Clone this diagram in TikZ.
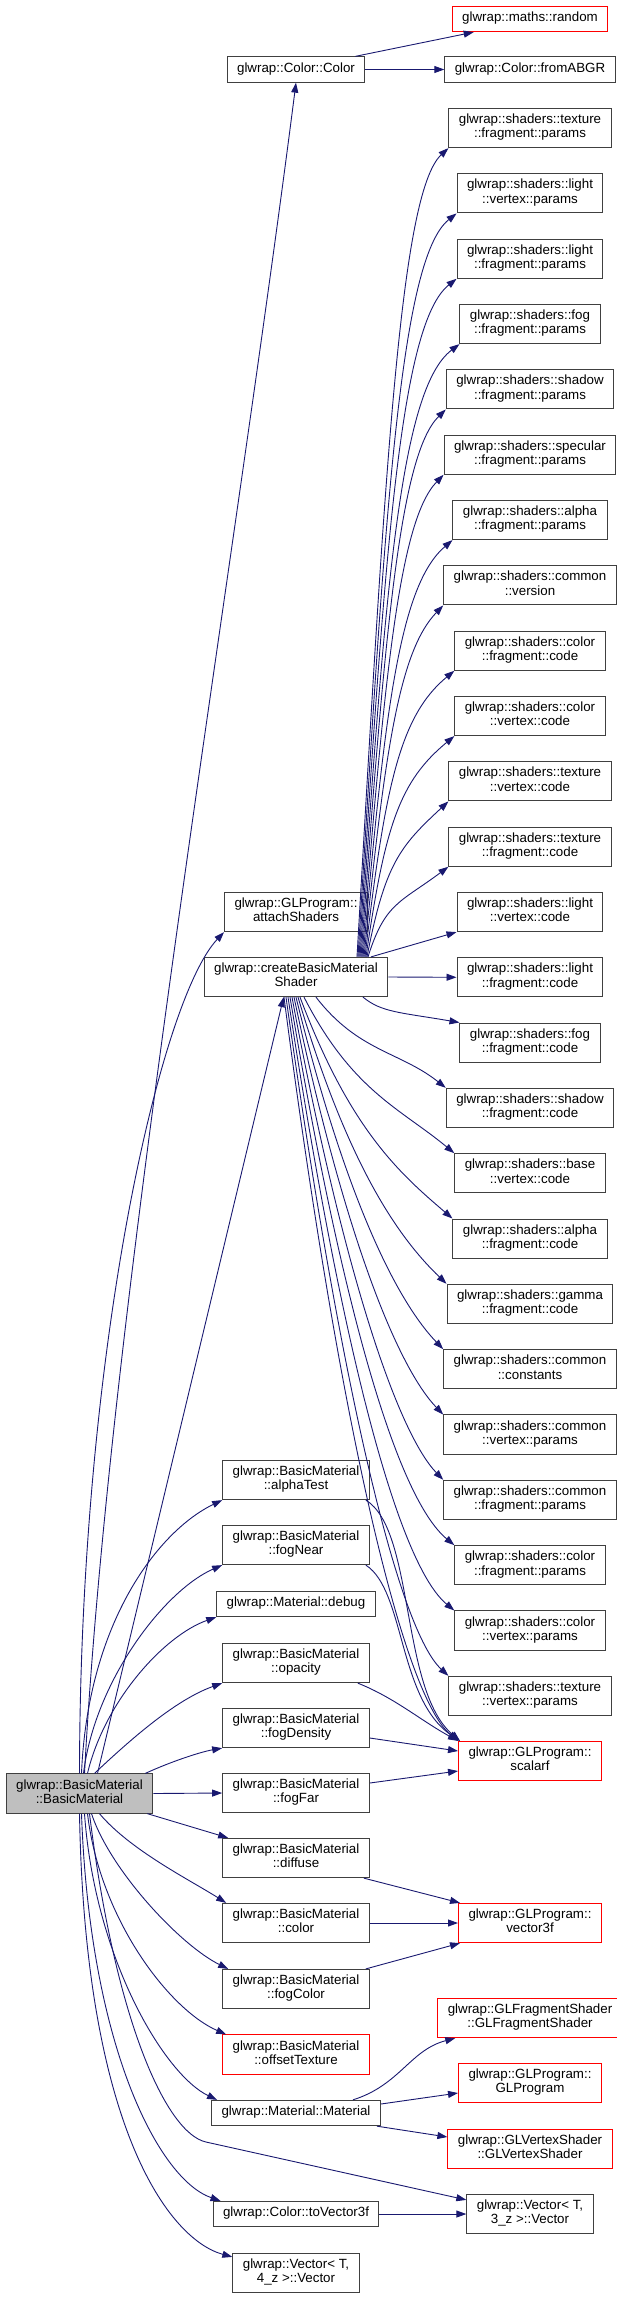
\documentclass[tikz,border=0pt]{standalone}
\usepackage{fontspec}
\setmainfont{Liberation Sans}
\usetikzlibrary{arrows.meta,calc}
\definecolor{edgeblue}{HTML}{191970}
\definecolor{boxgray}{HTML}{404040}
\definecolor{mainfill}{HTML}{BFBFBF}
\definecolor{boxred}{HTML}{FF0000}
\tikzset{
  box/.style={draw=boxgray, line width=1pt, fill=white, align=center,
    font=\fontsize{13.33}{14.3}\selectfont, inner xsep=10pt, inner ysep=5.5pt,
    execute at begin node=\strut, execute at end node=\strut},
  redbox/.style={box, draw=boxred},
  mainbox/.style={box, fill=mainfill},
  edge/.style={draw=edgeblue, line width=0.9pt, -{Triangle[length=10pt,width=7pt]}},
}
\begin{document}
\begin{tikzpicture}[x=1pt,y=-1pt]
\useasboundingbox (0,0) rectangle (617,2299);
% top
\node[redbox] (random) at (530,19) {glwrap::maths::random};
\node[box] (color) at (296,69.5) {glwrap::Color::Color};
\node[box] (abgr) at (530,69.5) {glwrap::Color::fromABGR};
% right column of shader nodes
\foreach \i/\a/\b in {1/texture/fragment::params, 2/light/vertex::params, 3/light/fragment::params,
  4/fog/fragment::params, 5/shadow/fragment::params, 6/specular/fragment::params,
  7/alpha/fragment::params, 8/common/version, 9/color/fragment::code, 10/color/vertex::code,
  11/texture/vertex::code, 12/texture/fragment::code, 13/light/vertex::code,
  14/light/fragment::code, 15/fog/fragment::code, 16/shadow/fragment::code,
  17/base/vertex::code, 18/alpha/fragment::code, 19/gamma/fragment::code,
  20/common/constants, 21/common/vertex::params, 22/common/fragment::params,
  23/color/fragment::params, 24/color/vertex::params, 25/texture/vertex::params}{
  \node[box] (s\i) at (530,{128+(\i-1)*65.33}) {glwrap::shaders::\a\\::\b};
}
\node[redbox] (scalarf) at (530,1761) {glwrap::GLProgram::\\scalarf};
\node[redbox] (vec3f) at (530,1923) {glwrap::GLProgram::\\vector3f};
\node[redbox] (gfs) at (530,2018) {glwrap::GLFragmentShader\\::GLFragmentShader};
\node[redbox] (glp) at (530,2083) {glwrap::GLProgram::\\GLProgram};
\node[redbox] (gvs) at (530,2149) {glwrap::GLVertexShader\\::GLVertexShader};
\node[box] (v3) at (530,2214) {glwrap::Vector< T,\\3\_z >::Vector};
% middle column
\node[box] (attach) at (296,912) {glwrap::GLProgram::\\attachShaders};
\node[box] (cbms) at (296,977) {glwrap::createBasicMaterial\\Shader};
\node[box] (alpha) at (296,1480) {glwrap::BasicMaterial\\::alphaTest};
\node[box] (fognear) at (296,1545) {glwrap::BasicMaterial\\::fogNear};
\node[box] (debug) at (296,1604) {glwrap::Material::debug};
\node[box] (opacity) at (296,1663) {glwrap::BasicMaterial\\::opacity};
\node[box] (fogdens) at (296,1728) {glwrap::BasicMaterial\\::fogDensity};
\node[box] (fogfar) at (296,1793) {glwrap::BasicMaterial\\::fogFar};
\node[box] (diffuse) at (296,1858) {glwrap::BasicMaterial\\::diffuse};
\node[box] (colorm) at (296,1923) {glwrap::BasicMaterial\\::color};
\node[box] (fogcolor) at (296,1989) {glwrap::BasicMaterial\\::fogColor};
\node[redbox] (offset) at (296,2054.5) {glwrap::BasicMaterial\\::offsetTexture};
\node[box] (material) at (296,2113) {glwrap::Material::Material};
\node[box] (tov3) at (296,2214) {glwrap::Color::toVector3f};
\node[box] (v4) at (296,2273) {glwrap::Vector< T,\\4\_z >::Vector};
% main
\node[mainbox] (main) at (79.5,1793.5) {glwrap::BasicMaterial\\::BasicMaterial};

% Color edges
\draw[edge] ($(color.north east)+(-10,0)$) -- ($(random.south west)+(22,0)$);
\draw[edge] (color.east) -- (abgr.west);
% createBasicMaterialShader upper fan
\foreach \i in {1,...,12}{
  \pgfmathsetmacro\ye{128+(\i-1)*65.33+20}
  \pgfmathsetmacro\sx{60+\i}
  \pgfmathsetmacro\pay{957-0.6*(957-\ye)}
  \pgfmathsetmacro\pby{\ye+min(45,0.4*(957-\ye))}
  \draw[edge] ($(cbms.north)+(\sx,0)$) .. controls (385,\pay) and (400,\pby) .. (s\i.south west);
}
\draw[edge] ($(cbms.north)+(75,0)$) -- (s13.south west);
\draw[edge] (cbms.east) -- (s14.west);
% lower fan
\foreach \j/\sx in {15/67,16/20,17/8,18/4,19/2,20/0,21/-2,22/-4,23/-6,24/-8,25/-10}{
  \pgfmathsetmacro\ye{128+(\j-1)*65.33-20}
  \pgfmathsetmacro\pax{0.5*(296+\sx+400)}
  \pgfmathsetmacro\pay{997+0.6*(\ye-997)}
  \pgfmathsetmacro\pby{\ye-min(45,0.4*(\ye-997))}
  \draw[edge] ($(cbms.south)+(\sx,0)$) .. controls (\pax,\pay) and (400,\pby) .. (s\j.north west);
}
\draw[edge] ($(cbms.south)+(-12,0)$) .. controls (342,1444) and (405,1697) .. (scalarf.north west);
% main upward edges
\draw[edge] ($(main.north)+(5,0)$) .. controls (110,1300) and (230,600) .. (color.south);
\draw[edge] (main.north) .. controls (80,1350) and (160,1000) .. (attach.south west);
\draw[edge] ($(main.north)+(18,0)$) -- ($(cbms.south west)+(80,0)$);
\draw[edge] ($(main.north)+(2,0)$) .. controls (88,1620) and (160,1530) .. (alpha.south west);
\draw[edge] ($(main.north)+(4,0)$) .. controls (95,1680) and (165,1590) .. (fognear.south west);
\draw[edge] ($(main.north)+(8,0)$) .. controls (105,1700) and (165,1635) .. (debug.south west);
\draw[edge] ($(main.north)+(15,0)$) .. controls (130,1740) and (175,1700) .. (opacity.south west);
\draw[edge] ($(main.north east)+(-8,0)$) .. controls (170,1762) and (200,1752) .. (fogdens.south west);
\draw[edge] (main.east) -- (fogfar.west);
\draw[edge] ($(main.south east)+(-6,0)$) -- ($(diffuse.north west)+(6,0)$);
% main downward edges
\draw[edge] ($(main.south)+(20,0)$) .. controls (130,1850) and (190,1880) .. ($(colorm.north west)+(4,0)$);
\draw[edge] ($(main.south)+(12,0)$) .. controls (110,1870) and (180,1945) .. ($(fogcolor.north west)+(6,0)$);
\draw[edge] ($(main.south)+(8,0)$) .. controls (100,1920) and (170,2010) .. ($(offset.north west)+(4,0)$);
\draw[edge] ($(main.south)+(5,0)$) .. controls (95,1960) and (165,2075) .. ($(material.north west)+(6,0)$);
\draw[edge] ($(main.south)+(2,0)$) .. controls (90,2050) and (160,2180) .. ($(tov3.north west)+(8,0)$);
\draw[edge] (main.south) .. controls (85,2130) and (170,2240) .. ($(v4.north west)+(0,4)$);
\draw[edge] ($(main.south)+(10,0)$) .. controls (115,2020) and (166,2133) .. (206,2142) -- ($(v3.north west)+(0,6)$);
% to scalarf
\draw[edge] ($(alpha.south east)+(-4,0)$) .. controls (415,1530) and (400,1690) .. ($(scalarf.north west)+(2,0)$);
\draw[edge] ($(fognear.south east)+(-4,0)$) .. controls (405,1590) and (398,1700) .. ($(scalarf.north west)+(2,0)$);
\draw[edge] ($(opacity.south east)+(-12,0)$) .. controls (395,1698) and (420,1720) .. (scalarf.north west);
\draw[edge] ($(fogdens.east)+(0,10)$) -- ($(scalarf.west)+(0,-10)$);
\draw[edge] ($(fogfar.east)+(0,-10)$) -- ($(scalarf.west)+(0,10)$);
% to vector3f
\draw[edge] ($(diffuse.south east)+(-6,0)$) -- ($(vec3f.north west)+(2,0)$);
\draw[edge] (colorm.east) -- (vec3f.west);
\draw[edge] ($(fogcolor.north east)+(-4,0)$) -- ($(vec3f.south west)+(2,0)$);
% Material
\draw[edge] ($(material.north east)+(-28,0)$) .. controls (400,2085) and (410,2050) .. ($(gfs.south west)+(18,0)$);
\draw[edge] ($(material.east)+(0,-9)$) -- ($(glp.west)+(0,10)$);
\draw[edge] ($(material.south east)+(-4,0)$) -- ($(gvs.west)+(0,-12)$);
% toVector3f
\draw[edge] (tov3.east) -- (v3.west);
\end{tikzpicture}
\end{document}
